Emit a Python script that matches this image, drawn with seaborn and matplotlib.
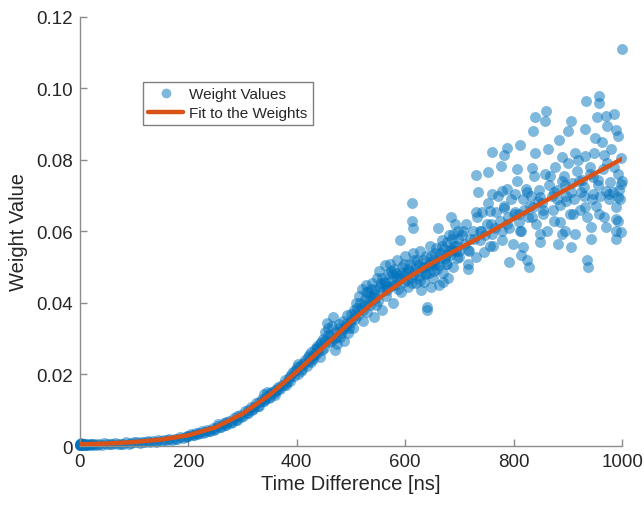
import matplotlib
matplotlib.use("Agg")
import matplotlib.pyplot as plt
import seaborn as sns
import pandas as pd
from matplotlib.lines import Line2D

# ---------------- data ----------------
# segment 0-200 ns
seg1_x = [0, 2, 4, 6, 8, 10, 15, 20, 28, 36, 45, 55, 65, 75, 85, 95, 105, 115, 125, 135,
          145, 155, 165, 175, 185, 195, 1, 3, 5, 12, 18, 25, 40, 60, 80, 110, 140, 170, 190]
seg1_y = [0.0004, 0.0006, 0.0003, 0.0005, 0.0007, 0.0004, 0.0006, 0.0005, 0.0007, 0.0005,
          0.0008, 0.0006, 0.0009, 0.0007, 0.0010, 0.0009, 0.0012, 0.0010, 0.0014, 0.0013,
          0.0017, 0.0016, 0.0021, 0.0020, 0.0026, 0.0025, 0.0002, 0.0008, 0.0006, 0.0003,
          0.0004, 0.0003, 0.0004, 0.0005, 0.0006, 0.0009, 0.0012, 0.0017, 0.0022]
# segment 200-360 ns
seg2_x = [200, 205, 210, 215, 220, 225, 230, 235, 240, 245, 250, 255, 260, 265, 270, 275,
          280, 285, 290, 295, 300, 305, 310, 315, 320, 325, 330, 335, 340, 345, 350,
          255, 270, 290, 310, 330, 345, 350, 340, 360]
seg2_y = [0.0029, 0.0033, 0.0031, 0.0037, 0.0035, 0.0042, 0.0038, 0.0046, 0.0043, 0.0050,
          0.0048, 0.0057, 0.0053, 0.0064, 0.0060, 0.0071, 0.0066, 0.0079, 0.0074, 0.0088,
          0.0084, 0.0098, 0.0093, 0.0108, 0.0103, 0.0120, 0.0112, 0.0131, 0.0125, 0.0140,
          0.0136, 0.0061, 0.0066, 0.0085, 0.0100, 0.0122, 0.0150, 0.0149, 0.0145, 0.0158]
# extra dense band 0-380 ns
seg8_x = [0, 0, 1, 3, 7, 9, 14, 22, 32, 50, 70, 90, 100, 120, 130, 150, 160, 180, 198, 208,
          218, 228, 238, 248, 258, 268, 278, 288, 298, 308, 318, 328, 338, 348, 358, 368,
          376, 362, 342, 322]
seg8_y = [0.0006, 0.0003, 0.0005, 0.0004, 0.0003, 0.0006, 0.0004, 0.0006, 0.0004, 0.0005,
          0.0006, 0.0007, 0.0010, 0.0011, 0.0012, 0.0015, 0.0018, 0.0021, 0.0028, 0.0030,
          0.0034, 0.0037, 0.0042, 0.0046, 0.0052, 0.0058, 0.0065, 0.0073, 0.0081, 0.0092,
          0.0100, 0.0112, 0.0127, 0.0135, 0.0148, 0.0162, 0.0170, 0.0155, 0.0132, 0.0110]
# segment 350-500 ns
seg3_x = [355, 360, 365, 370, 372, 378, 380, 385, 388, 392, 395, 398, 400, 403, 406, 410,
          412, 415, 418, 420, 423, 426, 428, 430, 433, 436, 438, 440, 443, 445, 448, 450,
          452, 455, 457, 460, 462, 465, 468, 470, 472, 475, 478, 480, 483, 486, 488, 490,
          493, 495, 498, 500]
seg3_y = [0.0150, 0.0142, 0.0165, 0.0160, 0.0172, 0.0185, 0.0170, 0.0190, 0.0182, 0.0205,
          0.0195, 0.0212, 0.0220, 0.0200, 0.0225, 0.0215, 0.0232, 0.0240, 0.0225, 0.0248,
          0.0238, 0.0262, 0.0250, 0.0242, 0.0270, 0.0258, 0.0280, 0.0265, 0.0250, 0.0290,
          0.0300, 0.0275, 0.0320, 0.0345, 0.0330, 0.0290, 0.0310, 0.0335, 0.0300, 0.0268,
          0.0320, 0.0285, 0.0340, 0.0305, 0.0325, 0.0350, 0.0295, 0.0335, 0.0365, 0.0315,
          0.0345, 0.0370]
# segment 500-700 ns
seg4_x = [503, 505, 508, 510, 513, 515, 518, 520, 522, 525, 528, 530, 532, 535, 538, 540,
          542, 545, 548, 550, 552, 555, 558, 560, 562, 565, 568, 570, 572, 575, 578, 580,
          582, 585, 588, 590, 592, 595, 598, 600, 602, 605, 608, 610, 612, 613, 614, 615,
          618, 620, 622, 625, 628, 630, 632, 635, 638, 640, 641, 643, 645, 648, 650, 652,
          655, 658, 660, 662, 665, 668, 670, 672, 675, 678, 680, 682, 685, 688, 690, 692,
          695, 698, 700,
          525, 535, 545, 555, 565, 575, 585, 595, 605, 615, 625, 635, 645, 655, 665, 675,
          685, 695]
seg4_y = [0.0330, 0.0380, 0.0355, 0.0400, 0.0365, 0.0420, 0.0385, 0.0440, 0.0350, 0.0410,
          0.0450, 0.0375, 0.0430, 0.0395, 0.0455, 0.0415, 0.0360, 0.0440, 0.0470, 0.0405,
          0.0490, 0.0430, 0.0380, 0.0460, 0.0505, 0.0420, 0.0480, 0.0445, 0.0510, 0.0465,
          0.0400, 0.0495, 0.0450, 0.0520, 0.0475, 0.0575, 0.0430, 0.0500, 0.0460, 0.0530,
          0.0485, 0.0445, 0.0510, 0.0470, 0.0680, 0.0630, 0.0610, 0.0540, 0.0495, 0.0455,
          0.0520, 0.0475, 0.0545, 0.0435, 0.0500, 0.0460, 0.0530, 0.0390, 0.0380, 0.0485,
          0.0560, 0.0445, 0.0510, 0.0470, 0.0540, 0.0495, 0.0610, 0.0450, 0.0525, 0.0575,
          0.0485, 0.0550, 0.0510, 0.0470, 0.0590, 0.0535, 0.0640, 0.0500, 0.0560, 0.0620,
          0.0525, 0.0580, 0.0545,
          0.0395, 0.0420, 0.0415, 0.0455, 0.0445, 0.0480, 0.0470, 0.0485, 0.0495, 0.0480,
          0.0505, 0.0500, 0.0515, 0.0505, 0.0540, 0.0535, 0.0550, 0.0560]
# extra density 380-700 ns
seg7_x = [382, 387, 394, 402, 408, 414, 422, 427, 432, 437, 442, 447, 453, 458, 463, 467,
          473, 477, 482, 487, 492, 497, 502, 507, 512, 517, 523, 527, 533, 537, 543, 547,
          553, 557, 563, 567, 573, 577, 583, 587, 593, 597, 603, 607, 613, 617, 623, 627,
          633, 637, 643, 647, 653, 657, 663, 667, 673, 677, 683, 687, 693, 697]
seg7_y = [0.0178, 0.0196, 0.0210, 0.0228, 0.0210, 0.0228, 0.0255, 0.0235, 0.0255, 0.0275,
          0.0285, 0.0268, 0.0295, 0.0310, 0.0295, 0.0360, 0.0305, 0.0330, 0.0315, 0.0330,
          0.0345, 0.0330, 0.0355, 0.0370, 0.0385, 0.0400, 0.0380, 0.0430, 0.0405, 0.0440,
          0.0425, 0.0395, 0.0445, 0.0470, 0.0455, 0.0435, 0.0490, 0.0450, 0.0485, 0.0440,
          0.0470, 0.0510, 0.0465, 0.0490, 0.0455, 0.0520, 0.0490, 0.0465, 0.0520, 0.0485,
          0.0505, 0.0530, 0.0490, 0.0555, 0.0505, 0.0560, 0.0525, 0.0570, 0.0545, 0.0580,
          0.0545, 0.0600]
# segment 700-1000 ns
seg5_x = [1000, 958, 958, 933, 985, 970, 954, 906, 859, 857, 840, 836, 932, 901, 884, 973,
          989, 992, 950, 787, 811, 760, 783, 840, 863, 890, 913, 932, 966, 998, 730, 753,
          776, 806, 833, 867, 890, 916, 947, 977, 998, 734, 760, 779, 802, 825, 848, 875,
          897, 924, 947, 970, 992, 730, 757, 783, 809, 836, 855, 886, 909, 932, 958, 989,
          738, 760, 787, 814, 833, 848, 875, 894, 913, 943, 970, 992, 757, 779, 798, 817,
          848, 905, 791, 829, 814, 825, 935, 938, 989, 998, 989, 943, 882, 890, 715, 715,
          730, 700, 677, 669, 688, 654, 639, 688, 707, 726, 745, 715,
          710, 720, 740, 750, 765, 775, 790, 800, 810, 820, 830, 845, 855, 870, 880, 895,
          905, 920, 930, 940, 955, 965, 975, 985, 995]
seg5_y = [0.1110, 0.0980, 0.0960, 0.0966, 0.0927, 0.0922, 0.0920, 0.0908, 0.0936, 0.0910,
          0.0920, 0.0880, 0.0887, 0.0880, 0.0857, 0.0894, 0.0885, 0.0866, 0.0862, 0.0834,
          0.0841, 0.0823, 0.0815, 0.0820, 0.0830, 0.0808, 0.0820, 0.0811, 0.0815, 0.0806,
          0.0759, 0.0765, 0.0783, 0.0774, 0.0778, 0.0755, 0.0741, 0.0769, 0.0751, 0.0737,
          0.0732, 0.0709, 0.0704, 0.0713, 0.0704, 0.0709, 0.0695, 0.0709, 0.0686, 0.0709,
          0.0704, 0.0713, 0.0695, 0.0653, 0.0658, 0.0672, 0.0649, 0.0667, 0.0649, 0.0675,
          0.0649, 0.0667, 0.0649, 0.0667, 0.0602, 0.0593, 0.0621, 0.0602, 0.0639, 0.0593,
          0.0630, 0.0602, 0.0593, 0.0612, 0.0612, 0.0630, 0.0560, 0.0575, 0.0565, 0.0556,
          0.0570, 0.0556, 0.0514, 0.0500, 0.0533, 0.0519, 0.0519, 0.0500, 0.0579, 0.0598,
          0.0635, 0.0579, 0.0565, 0.0593, 0.0496, 0.0510, 0.0528, 0.0528, 0.0510, 0.0459,
          0.0547, 0.0519, 0.0482, 0.0593, 0.0602, 0.0579, 0.0542, 0.0547,
          0.0565, 0.0580, 0.0600, 0.0620, 0.0610, 0.0630, 0.0640, 0.0650, 0.0625, 0.0660,
          0.0670, 0.0685, 0.0660, 0.0700, 0.0715, 0.0730, 0.0710, 0.0740, 0.0725, 0.0760,
          0.0730, 0.0775, 0.0705, 0.0780, 0.0715]
# extra dense band 700-1000 ns
seg6_x = [705, 712, 718, 725, 732, 738, 742, 748, 752, 758, 762, 768, 772, 778, 782, 788,
          792, 796, 803, 807, 812, 818, 822, 826, 832, 838, 842, 846, 852, 858, 862, 866,
          872, 876, 880, 886, 892, 896, 900, 904, 908, 912, 918, 922, 926, 930, 936, 940,
          944, 948, 952, 956, 960, 963, 967, 972, 976, 980, 984, 988, 992, 996, 999]
seg6_y = [0.0590, 0.0620, 0.0545, 0.0600, 0.0640, 0.0575, 0.0655, 0.0590, 0.0680, 0.0620,
          0.0560, 0.0655, 0.0700, 0.0600, 0.0665, 0.0720, 0.0610, 0.0690, 0.0655, 0.0740,
          0.0600, 0.0690, 0.0720, 0.0640, 0.0700, 0.0755, 0.0620, 0.0715, 0.0680, 0.0760,
          0.0600, 0.0730, 0.0660, 0.0780, 0.0690, 0.0625, 0.0755, 0.0700, 0.0790, 0.0650,
          0.0735, 0.0690, 0.0800, 0.0660, 0.0745, 0.0700, 0.0640, 0.0780, 0.0690, 0.0820,
          0.0670, 0.0745, 0.0700, 0.0850, 0.0640, 0.0790, 0.0690, 0.0830, 0.0710, 0.0600,
          0.0760, 0.0690, 0.0740]

# fitted curve
fit_x = [0, 50, 100, 150, 200, 250, 300, 350, 400, 450, 500, 550, 600, 650, 700, 750,
         800, 850, 900, 950, 1000]
fit_y = [0.0005, 0.0007, 0.0011, 0.0018, 0.0030, 0.0052, 0.0090, 0.0143, 0.0208, 0.0278,
         0.0348, 0.0412, 0.0466, 0.0512, 0.0553, 0.0593, 0.0635, 0.0678, 0.0720, 0.0762,
         0.0803]

x_ticks = [0, 200, 400, 600, 800, 1000]
y_ticks = [0, 0.02, 0.04, 0.06, 0.08, 0.10, 0.12]
y_tick_labels = ["0", "0.02", "0.04", "0.06", "0.08", "0.10", "0.12"]

# ---------------- plot ----------------
sns.set_style("ticks")
plt.rcParams["font.family"] = ["Liberation Sans", "DejaVu Sans"]

scatter_df = pd.DataFrame({
    "t": seg1_x + seg8_x + seg2_x + seg3_x + seg7_x + seg4_x + seg5_x + seg6_x,
    "w": seg1_y + seg8_y + seg2_y + seg3_y + seg7_y + seg4_y + seg5_y + seg6_y,
})
fit_df = pd.DataFrame({"t": fit_x, "w": fit_y})

blue = "#0072BD"
orange = "#D95319"
axis_gray = "#8c8c8c"
text_col = "#262626"

fig = plt.figure(figsize=(6.44, 5.10), dpi=100)
ax = fig.add_axes([0.124, 0.1235, 0.842, 0.8415])

sns.scatterplot(data=scatter_df, x="t", y="w", ax=ax, color=blue, alpha=0.5,
                s=62, linewidth=0, legend=False, zorder=2)
for coll in ax.collections:
    coll.set_clip_on(False)
sns.lineplot(data=fit_df, x="t", y="w", ax=ax, color=orange, linewidth=3.2,
             legend=False, zorder=3)

ax.set_xlim(0, 1000)
ax.set_ylim(0, 0.12)
ax.set_xticks(x_ticks)
ax.set_xticklabels([str(v) for v in x_ticks])
ax.set_yticks(y_ticks)
ax.set_yticklabels(y_tick_labels)

for side in ["top", "right"]:
    ax.spines[side].set_visible(False)
for side in ["left", "bottom"]:
    ax.spines[side].set_color(axis_gray)
    ax.spines[side].set_linewidth(1.0)

ax.tick_params(axis="both", direction="in", length=5, width=1.0, color=axis_gray,
               labelsize=13.5, labelcolor=text_col, pad=5)
ax.set_xlabel("Time Difference [ns]", fontsize=14.5, color=text_col, labelpad=3)
ax.set_ylabel("Weight Value", fontsize=14.5, color=text_col, labelpad=6)

handles = [
    Line2D([0], [0], marker="o", linestyle="none", markersize=7, markerfacecolor=blue,
           markeredgewidth=0, alpha=0.5, color=blue),
    Line2D([0], [0], color=orange, linewidth=3.2),
]
leg = ax.legend(handles, ["Weight Values", "Fit to the Weights"], loc="upper left",
                bbox_to_anchor=(0.116, 0.848), fontsize=11, frameon=True, fancybox=False,
                framealpha=1, edgecolor="#7f7f7f", handlelength=2.3, handletextpad=0.4,
                borderpad=0.35, labelspacing=0.3, borderaxespad=0)
leg.get_frame().set_linewidth(1.0)
for t in leg.get_texts():
    t.set_color(text_col)

fig.savefig("out.png", dpi=100)
